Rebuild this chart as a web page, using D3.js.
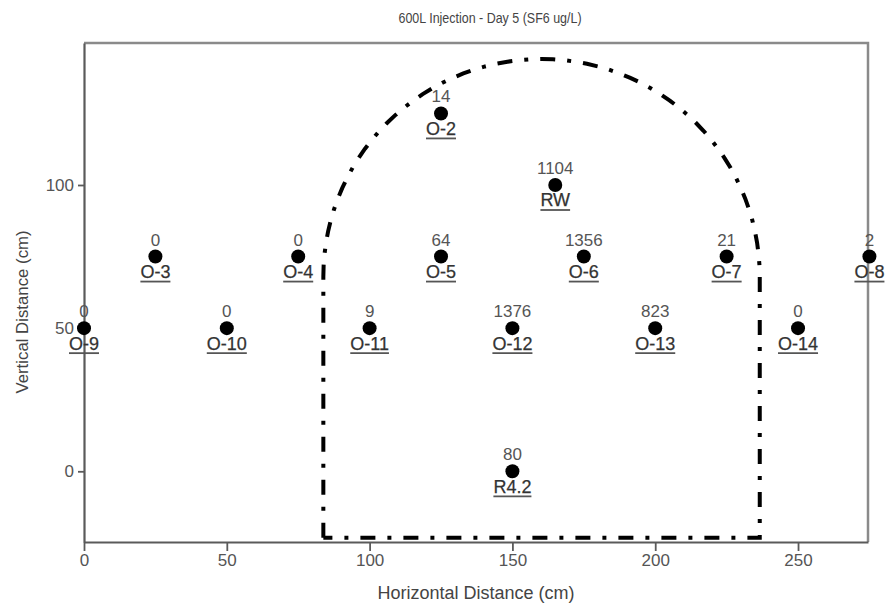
<!DOCTYPE html>
<html>
<head>
<meta charset="utf-8">
<script src="https://cdn.jsdelivr.net/npm/d3@7"></script>
<style>
  html, body { margin: 0; padding: 0; background: #fff; }
  svg text { font-family: "Liberation Sans", Arial, sans-serif; }
</style>
</head>
<body>
<svg id="chart" width="885" height="607"></svg>
<script>
// Sampling wells: name, horizontal / vertical position (cm) and SF6 concentration (ug/L)
const wellNames = ["O-9", "O-3", "O-10", "O-4", "O-11", "O-2", "O-5", "O-12", "RW", "O-6", "O-13", "O-7", "O-14", "O-8", "R4.2"];
const wellX     = [0, 25, 50, 75, 100, 125, 125, 150, 165, 175, 200, 225, 250, 275, 150];
const wellY     = [50, 75, 50, 75, 50, 125, 75, 50, 100, 75, 50, 75, 50, 75, 0];
const sf6Values = [0, 0, 0, 0, 9, 14, 64, 1376, 1104, 1356, 823, 21, 0, 2, 80];

// Axis ticks
const xTicks = [0, 50, 100, 150, 200, 250];
const yTicks = [0, 50, 100];

// Plume boundary (cm): side walls, bottom edge, base and crest of the arched top
const plumeSides = [83.8, 236.6];
const plumeBottom = -23.2;
const plumeArchBase = 68;
const plumeArchTop = 144;

const svg = d3.select("#chart");
const margin = { left: 84, right: 17, top: 43, bottom: 65 };
const W = 885, H = 607;

const x = d3.scaleLinear().domain([0, 274.5]).range([margin.left, W - margin.right]);
const y = d3.scaleLinear().domain([-24.7, 149.6]).range([H - margin.bottom, margin.top]);

// Title (slightly condensed face)
svg.append("text")
  .attr("transform", "translate(490,23) scale(0.86,1.05)")
  .attr("text-anchor", "middle")
  .attr("font-size", 14.5)
  .attr("fill", "#444")
  .text("600L Injection - Day 5 (SF6 ug/L)");

// Frame: top and right edges
svg.append("path")
  .attr("d", `M${x(0)},${y(149.6)} H${x(274.5)} V${y(-24.7)}`)
  .attr("fill", "none")
  .attr("stroke", "#8a8a8a")
  .attr("stroke-width", 2.5);

// Axes
const xAxis = svg.append("g")
  .attr("transform", `translate(0,${y(-24.7)})`)
  .call(d3.axisBottom(x).tickValues(xTicks).tickSize(9).tickPadding(3).tickSizeOuter(0));
const yAxis = svg.append("g")
  .attr("transform", `translate(${x(0)},0)`)
  .call(d3.axisLeft(y).tickValues(yTicks).tickSize(6).tickPadding(4).tickSizeOuter(0));

[xAxis, yAxis].forEach(g => {
  g.select(".domain").attr("stroke", "#5a5a5a").attr("stroke-width", 2.2);
  g.selectAll(".tick line").attr("stroke", "#5a5a5a").attr("stroke-width", 1.8);
  g.selectAll(".tick text")
    .attr("font-size", 17)
    .attr("fill", "#555")
    .attr("font-family", "'Liberation Sans', Arial, sans-serif");
});

// Axis titles
svg.append("text")
  .attr("x", 476).attr("y", 599)
  .attr("text-anchor", "middle")
  .attr("font-size", 18)
  .attr("fill", "#444")
  .text("Horizontal Distance (cm)");
svg.append("text")
  .attr("transform", "translate(28,312) rotate(-90)")
  .attr("text-anchor", "middle")
  .attr("font-size", 16.8)
  .attr("fill", "#444")
  .text("Vertical Distance (cm)");

// Plume boundary outline: vertical walls joined by an elliptical arch
const cx = (plumeSides[0] + plumeSides[1]) / 2;
const rx = (plumeSides[1] - plumeSides[0]) / 2;
const ry = plumeArchTop - plumeArchBase;
const outline = [[plumeSides[0], plumeBottom], [plumeSides[0], plumeArchBase]];
d3.range(0, 181, 3).forEach(deg => {
  const t = Math.PI - deg * Math.PI / 180;
  outline.push([cx + rx * Math.cos(t), plumeArchBase + ry * Math.sin(t)]);
});
outline.push([plumeSides[1], plumeBottom], [plumeSides[0], plumeBottom]);

svg.append("path")
  .datum(outline)
  .attr("d", d3.line().x(d => x(d[0])).y(d => y(d[1])))
  .attr("fill", "none")
  .attr("stroke", "#000")
  .attr("stroke-width", 4)
  .attr("stroke-dasharray", "15,12,4,12");

// Wells
const wells = wellNames.map((name, i) => ({ name, x: wellX[i], y: wellY[i], v: sf6Values[i] }));
const g = svg.append("g").selectAll("g").data(wells).join("g")
  .attr("transform", d => `translate(${x(d.x)},${y(d.y)})`);

g.append("circle").attr("r", 7).attr("fill", "#000");

g.append("text")
  .attr("y", -11)
  .attr("text-anchor", "middle")
  .attr("font-size", 17)
  .attr("fill", "#555")
  .text(d => d.v);

const names = g.append("text")
  .attr("y", 21.5)
  .attr("text-anchor", "middle")
  .attr("font-size", 18)
  .attr("fill", "#333")
  .attr("stroke", "#333")
  .attr("stroke-width", 0.25)
  .text(d => d.name);

// Underline under each well name
names.each(function () {
  const bb = this.getBBox();
  d3.select(this.parentNode).append("line")
    .attr("x1", bb.x).attr("x2", bb.x + bb.width)
    .attr("y1", 25).attr("y2", 25)
    .attr("stroke", "#555")
    .attr("stroke-width", 1.8);
});
</script>
</body>
</html>
